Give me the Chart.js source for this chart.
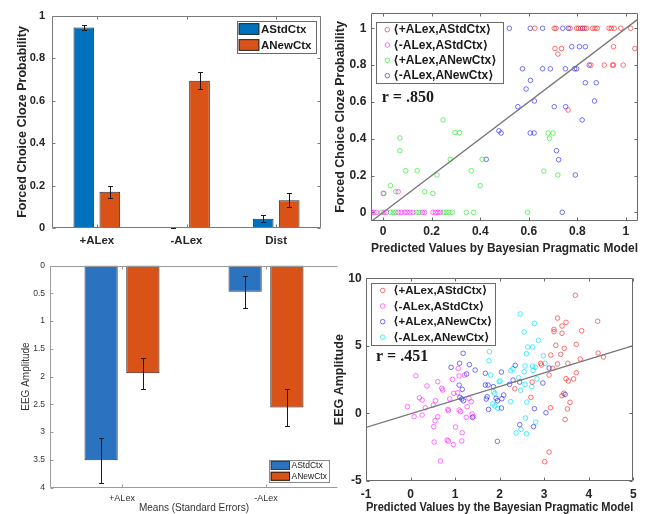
<!DOCTYPE html>
<html>
<head>
<meta charset="utf-8">
<script src="https://cdn.jsdelivr.net/npm/chart.js@4.4.1/dist/chart.umd.min.js"></script>
<style>
body { margin: 0; background: #fff; }
#wrap { position: relative; width: 657px; height: 514px; overflow: hidden; background: #fff; }
canvas { position: absolute; }
</style>
</head>
<body>
<div id="wrap">
<canvas id="clozeBars" width="330" height="252" style="left:0;top:0"></canvas>
<canvas id="clozeScatter" width="327" height="258" style="left:330px;top:0"></canvas>
<canvas id="eegBars" width="338" height="259" style="left:0;top:255px"></canvas>
<canvas id="eegScatter" width="327" height="254" style="left:330px;top:262px"></canvas>
</div>
<script>
// bar panels
const barGroups = ['+ALex', '-ALex', 'Dist'];
const ctxLabels = ['AStdCtx', 'ANewCtx'];
const clozeStd = [0.945, 0.005, 0.045];
const clozeStdErr = [0.013, 0.003, 0.016];
const clozeNew = [0.172, 0.694, 0.132];
const clozeNewErr = [0.029, 0.041, 0.033];
const clozeTicks = [0, 0.2, 0.4, 0.6, 0.8, 1];

const eegGroups = ['+ALex', '-ALex'];
const eegStd = [3.51, 0.47];
const eegStdErr = [0.41, 0.29];
const eegNew = [1.94, 2.56];
const eegNewErr = [0.28, 0.34];
const eegTicks = [0, 0.5, 1, 1.5, 2, 2.5, 3, 3.5, 4];

// scatter panels
const pairLabels = ['⟨+ALex,AStdCtx⟩', '⟨-ALex,AStdCtx⟩', '⟨+ALex,ANewCtx⟩', '⟨-ALex,ANewCtx⟩'];

const clozePlusStd = [[0.625,1],[0.705,1],[0.712,1],[0.77,1],[0.797,1],[0.805,1],[0.814,1],[0.83,1],[0.838,1],[0.863,1],[0.873,1],[0.882,1],[0.931,1],[0.94,1],[0.952,1],[0.979,1],[1.02,1],[0.708,0.89],[0.735,0.89],[0.72,0.86],[0.949,0.9],[1.037,0.89],[0.856,0.8],[0.911,0.8],[0.945,0.8],[0.949,0.8],[0.989,0.8],[0.762,0.556]];
const clozeMinusStd = [[-0.048,0],[-0.038,0],[-0.027,0],[0.003,0],[0.014,0],[0.062,0],[0.075,0],[0.089,0],[0.099,0],[0.11,0],[0.123,0],[0.162,0],[0.171,0],[0.205,0],[0.216,0],[0.226,0],[0.236,0],[0.062,0.112],[0.003,0.103]];
const clozePlusNew = [[0.247,0.502],[0.296,0.433],[0.315,0.433],[0.069,0.404],[0.069,0.335],[0.277,0.288],[0.408,0.288],[0.093,0.226],[0.14,0.226],[0.363,0.226],[0.222,0.203],[0.03,0.145],[0.4,0.145],[0.052,0.112],[0.171,0.112],[0.205,0.103],[0,0.103],[0.68,0.431],[0.7,0.431],[0.685,0.402],[0.662,0.224],[0.72,0.203],[0.595,0],[-0.007,0],[0.03,0],[0.041,0],[0.052,0],[0.137,0],[0.148,0],[0.249,0],[0.26,0],[0.271,0],[0.285,0],[0.343,0],[0.373,0]];
const clozeMinusNew = [[0.52,1],[0.606,1],[0.657,1],[0.74,1],[0.763,1],[0.822,1],[0.777,0.9],[0.809,0.9],[0.833,0.9],[0.574,0.78],[0.657,0.78],[0.689,0.78],[0.751,0.78],[0.789,0.78],[0.797,0.78],[0.849,0.8],[0.607,0.717],[0.833,0.704],[0.878,0.704],[0.589,0.67],[0.623,0.605],[0.871,0.605],[0.555,0.574],[0.705,0.574],[0.752,0.574],[0.82,0.502],[0.477,0.443],[0.486,0.431],[0.606,0.431],[0.622,0.431],[0.714,0.335],[0.723,0.286],[0.425,0.288],[0.792,0.203],[0.738,0]];
const clozeFitX = [-0.05, 1.05];
const clozeFitY = [-0.05, 1.05];

const eegPlusStd = [[3.7,8.74],[3.3,7.06],[3.4,6.47],[3.49,6.74],[4.2,6.82],[3.22,6.22],[3.22,6.05],[3.4,5.93],[3.84,6.12],[3.26,5.04],[3.72,5.11],[3.45,4.82],[3.15,4.32],[3.37,4.37],[4.21,4.47],[4.33,4.17],[3.81,4.03],[2.92,3.71],[2.94,3.58],[3.3,3.66],[3.53,3.71],[3.19,3.34],[3.11,2.84],[3.72,3.01],[3.49,2.57],[3.54,2.4],[3.66,2.55],[2.73,2.32],[2.34,1.83],[3.44,1.49],[3.4,1.31],[2.7,1.19],[3.58,0.82],[3.14,0.42],[3.52,0.33],[3.47,-0.44],[3.11,-2.86],[3.01,-3.57]];
const eegMinusStd = [[0.12,2.79],[0.37,2.03],[0.61,2.35],[0.7,1.86],[0.72,1.73],[0.94,2.52],[1.09,2.77],[1.21,2.84],[1.07,3.32],[1.06,1.53],[0.2,1.16],[0.26,0.99],[-0.07,0.5],[0.33,0.42],[0.56,0.94],[0.51,0.62],[0.08,-0.24],[0.26,-0.12],[0.84,0.3],[0.85,0.2],[0.88,1.07],[0.61,-0.24],[0.55,-0.54],[0.52,-0.98],[1.09,0.25],[1.12,0.13],[1.31,1.12],[1.27,0.5],[1.38,-0.04],[1.41,-0.24],[1.25,-0.29],[1.01,-1.01],[1.16,-1.43],[0.53,-2.12],[0.82,-1.97],[0.85,-2.04],[0.96,-2.31],[1.15,-2.04],[0.67,-3.52],[0.97,1.49],[1.36,0.87]];
const eegPlusNew = [[2.35,3.56],[2.04,3.06],[3.11,3.36],[2.3,2.47],[2.45,2.32],[2.22,2.15],[2.97,2.25],[2.09,1.36],[3.47,1.41],[2.04,0.4],[2.78,0.35],[3.04,0.05],[2.45,-0.83],[2.76,-0.98],[1.95,-2.07],[1.18,4.45],[1.1,3.71],[0.91,3.41],[1.32,3.61],[1.45,3.21],[1.26,2.92],[1.68,2.97],[1.09,2.1],[1.68,2.1],[1.74,2.1],[1.16,1.78],[1.86,1.98],[1.92,1.12],[1.95,0.94],[1.11,1.19],[1.15,1.07],[1.19,0.94],[2.05,1.09],[1.75,0.3],[1.39,-0.29],[1.72,1.24],[1.7,1.07]];
const eegMinusNew = [[2.46,7.36],[2.78,6.67],[2.55,6.03],[2.87,5.41],[2.63,4.91],[2.74,4.91],[2.6,4.42],[2.98,4.27],[3.02,3.71],[2.57,3.51],[2.74,3.51],[2.8,3.41],[2.3,3.31],[2.25,3.16],[2.55,3.09],[2.75,3.19],[2.43,2.64],[2.84,2.55],[2.01,2.4],[2.57,2.15],[2.72,1.98],[2.47,1.71],[2.25,0.87],[2.61,0.84],[2.58,-0.34],[2.81,-0.64],[2.48,-1.18],[2.37,-1.45],[2.6,-1.5],[1.77,4.57],[1.76,3.9],[1.8,2.84],[1.99,2.35],[1.86,1.61],[1.89,1.49],[1.84,0.7],[1.89,0.55],[1.96,0.38]];
const eegFitX = [-1, 5];
const eegFitY = [-1.03, 5.02];
const eegXTicks = [-1, 0, 1, 2, 3, 4, 5];
const eegYTicks = [-5, 0, 5, 10];

Chart.defaults.font.family = '"Liberation Sans", Arial, Helvetica, sans-serif';
Chart.defaults.color = '#262626';

const blue = '#0072BD', orange = '#D95319';
const red = 'rgba(255,0,0,0.55)', magenta = 'rgba(255,0,255,0.55)', green = 'rgba(0,225,0,0.55)',
      darkBlue = 'rgba(0,0,255,0.55)', cyan = 'rgba(0,230,255,0.7)';

function toPts(arr) { return arr.map(p => ({ x: p[0], y: p[1] })); }
function fitPts(xs, ys) { return xs.map((x, i) => ({ x: x, y: ys[i] })); }
function fixTicks(list) { return s => { s.ticks = list.map(v => ({ value: v })); }; }

function errorBars(cap) {
  return {
    id: 'errorBars',
    afterDatasetsDraw(chart) {
      const ys = chart.scales.y, c = chart.ctx;
      c.save();
      c.strokeStyle = '#1a1a1a';
      c.lineWidth = 1;
      chart.data.datasets.forEach((ds, i) => {
        if (!ds.errors) return;
        chart.getDatasetMeta(i).data.forEach((bar, j) => {
          const v = ds.data[j], e = ds.errors[j];
          const x = Math.round(bar.x) + 0.5;
          const y1 = Math.round(ys.getPixelForValue(v - e)) + 0.5;
          const y2 = Math.round(ys.getPixelForValue(v + e)) + 0.5;
          c.beginPath();
          c.moveTo(x, y1); c.lineTo(x, y2);
          c.moveTo(x - cap / 2, y1); c.lineTo(x + cap / 2, y1);
          c.moveTo(x - cap / 2, y2); c.lineTo(x + cap / 2, y2);
          c.stroke();
        });
      });
      c.restore();
    }
  };
}

function axesFrame(o) {
  return {
    id: 'axesFrame',
    afterDatasetsDraw(chart) {
      const a = chart.chartArea, c = chart.ctx, xs = chart.scales.x, ys = chart.scales.y;
      const L = Math.round(a.left) + 0.5, R = Math.round(a.right) - 0.5;
      const T = Math.round(a.top) + 0.5, B = Math.round(a.bottom) - 0.5;
      const n = o.tick;
      c.save();
      c.strokeStyle = o.color;
      c.lineWidth = 1;
      c.beginPath();
      c.moveTo(R, T); c.lineTo(L, T); c.lineTo(L, B); c.lineTo(R, B);
      if (o.right) c.lineTo(R, T);
      ys.ticks.forEach(t => {
        const y = Math.round(ys.getPixelForValue(t.value)) + 0.5;
        c.moveTo(L, y); c.lineTo(L + n, y);
        if (o.right) { c.moveTo(R, y); c.lineTo(R - n, y); }
      });
      xs.ticks.forEach((t, i) => {
        const x = Math.round(xs.getPixelForTick(i)) + 0.5;
        c.moveTo(x, B); c.lineTo(x, B - n);
        c.moveTo(x, T); c.lineTo(x, T + n);
      });
      c.stroke();
      c.restore();
    }
  };
}

function boxLegend(o) {
  return {
    id: 'boxLegend',
    afterDraw(chart) {
      const c = chart.ctx;
      const sets = chart.data.datasets.filter(d => d.label);
      const rowH = o.h / sets.length;
      c.save();
      c.fillStyle = '#fff';
      c.fillRect(o.x, o.y, o.w, o.h);
      c.strokeStyle = o.border;
      c.lineWidth = 1;
      c.strokeRect(Math.round(o.x) + 0.5, Math.round(o.y) + 0.5, Math.round(o.w), Math.round(o.h));
      c.font = o.font;
      c.textBaseline = 'middle';
      c.textAlign = 'left';
      sets.forEach((ds, i) => {
        const cy = o.y + rowH * (i + 0.5);
        if (o.marker === 'rect') {
          c.fillStyle = ds.backgroundColor;
          c.fillRect(o.x + o.mx, cy - o.mh / 2, o.mw, o.mh);
          c.strokeStyle = ds.borderColor;
          c.strokeRect(o.x + o.mx + 0.5, cy - o.mh / 2 + 0.5, o.mw - 1, o.mh - 1);
        } else {
          c.strokeStyle = ds.borderColor;
          c.beginPath();
          c.arc(o.x + o.mx, cy, 2.3, 0, Math.PI * 2);
          c.stroke();
        }
        c.fillStyle = o.textColor;
        c.fillText(ds.label, o.x + o.tx, cy + 0.5);
      });
      c.restore();
    }
  };
}

function note(text, x, y, font) {
  return {
    id: 'note',
    afterDraw(chart) {
      const c = chart.ctx;
      c.save();
      c.font = font;
      c.fillStyle = '#1a1a1a';
      c.textBaseline = 'middle';
      c.fillText(text, x, y);
      c.restore();
    }
  };
}

function barSet(label, data, errors, color, edge) {
  return {
    label: label, data: data, errors: errors,
    backgroundColor: color, borderColor: edge, borderWidth: 1, borderSkipped: false,
    categoryPercentage: 0.58, barPercentage: 0.795
  };
}

function scatterSet(label, pts, color) {
  return {
    label: label, data: toPts(pts), borderColor: color, backgroundColor: 'rgba(0,0,0,0)',
    borderWidth: 1, pointRadius: 2.3, pointHoverRadius: 2.3
  };
}

function fitSet(xs, ys) {
  return {
    type: 'line', data: fitPts(xs, ys), borderColor: '#777', borderWidth: 1.3,
    pointRadius: 0, fill: false, order: -1
  };
}

const plainAxis = { grid: { display: false, drawTicks: false, tickLength: 0 }, border: { display: false } };
const noLegend = { legend: { display: false }, tooltip: { enabled: false } };

// top left: cloze probability bars
new Chart(document.getElementById('clozeBars'), {
  type: 'bar',
  data: {
    labels: barGroups,
    datasets: [
      barSet(ctxLabels[0], clozeStd, clozeStdErr, blue, '#2b2b2b'),
      barSet(ctxLabels[1], clozeNew, clozeNewErr, orange, '#2b2b2b')
    ]
  },
  options: {
    responsive: false, animation: false, devicePixelRatio: 1,
    layout: { padding: { top: 15.7, right: 9, left: 0, bottom: 0 } },
    plugins: noLegend,
    scales: {
      x: Object.assign({}, plainAxis, {
        ticks: { padding: 5.8, font: { size: 11.5, weight: 'bold' }, maxRotation: 0 },
        afterFit: s => { s.height = 23.7; }
      }),
      y: Object.assign({}, plainAxis, {
        min: 0, max: 1,
        afterBuildTicks: fixTicks(clozeTicks),
        ticks: { padding: 7, font: { size: 11, weight: 'bold' }, callback: v => String(v) },
        title: { display: true, text: 'Forced Choice Cloze Probability', font: { size: 12.5, weight: 'bold' }, padding: { top: 15, bottom: 0 } },
        afterFit: s => { s.width = 52; }
      })
    }
  },
  plugins: [errorBars(5), axesFrame({ color: '#7a7a7a', tick: 3, right: true }),
    boxLegend({ x: 237, y: 21, w: 79, h: 32, marker: 'rect', mx: 1.7, mw: 20.6, mh: 11.7, tx: 24,
      font: 'bold 11.5px "Liberation Sans", Arial, sans-serif', textColor: '#1a1a1a', border: '#6a6a6a' })]
});

// top right: cloze vs model
new Chart(document.getElementById('clozeScatter'), {
  type: 'scatter',
  data: {
    datasets: [
      fitSet(clozeFitX, clozeFitY),
      scatterSet(pairLabels[0], clozePlusStd, red),
      scatterSet(pairLabels[1], clozeMinusStd, magenta),
      scatterSet(pairLabels[2], clozePlusNew, green),
      scatterSet(pairLabels[3], clozeMinusNew, darkBlue)
    ]
  },
  options: {
    responsive: false, animation: false, devicePixelRatio: 1,
    layout: { padding: { top: 13, right: 19, left: 0, bottom: 0 } },
    plugins: noLegend,
    scales: {
      x: Object.assign({}, plainAxis, {
        type: 'linear', min: -0.05, max: 1.05,
        afterBuildTicks: fixTicks(clozeTicks),
        ticks: { padding: 3.5, font: { size: 12, weight: 'bold' }, callback: v => String(v), maxRotation: 0, autoSkip: false },
        title: { display: true, text: 'Predicted Values by Bayesian Pragmatic Model', font: { size: 12.5, weight: 'bold' }, padding: { top: 0, bottom: 2.2 } },
        afterFit: s => { s.height = 37; }
      }),
      y: Object.assign({}, plainAxis, {
        min: -0.047, max: 1.083,
        afterBuildTicks: fixTicks(clozeTicks),
        ticks: { padding: 4.7, font: { size: 12, weight: 'bold' }, callback: v => String(v) },
        title: { display: true, text: 'Forced Choice Cloze Probability', font: { size: 12.5, weight: 'bold' }, padding: { top: 3.5, bottom: 0 } },
        afterFit: s => { s.width = 41; }
      })
    }
  },
  plugins: [axesFrame({ color: '#6a6a6a', tick: 3, right: true }),
    boxLegend({ x: 46, y: 22, w: 126.7, h: 61.3, marker: 'circle', mx: 11.3, tx: 17.3,
      font: 'bold 12px "Liberation Sans", "DejaVu Sans", sans-serif', textColor: '#1a1a1a', border: '#6a6a6a' }),
    note('r = .850', 51.7, 98.3, 'bold 16px "Liberation Serif", serif')]
});

// bottom left: EEG amplitude bars
new Chart(document.getElementById('eegBars'), {
  type: 'bar',
  data: {
    labels: eegGroups,
    datasets: [
      barSet(ctxLabels[0], eegStd, eegStdErr, '#2b72c0', '#3a3a3a'),
      barSet(ctxLabels[1], eegNew, eegNewErr, orange, '#2a1a10')
    ]
  },
  options: {
    responsive: false, animation: false, devicePixelRatio: 1,
    layout: { padding: { top: 10.6, right: 0, left: 0, bottom: 0 } },
    plugins: noLegend,
    scales: {
      x: Object.assign({}, plainAxis, {
        ticks: { padding: 5.4, font: { size: 9 }, color: '#333', maxRotation: 0 },
        title: { display: true, text: 'Means (Standard Errors)', font: { size: 10 }, color: '#333', padding: { top: 0, bottom: 0 } },
        afterFit: s => { s.height = 26.5; }
      }),
      y: Object.assign({}, plainAxis, {
        min: 0, max: 4, reverse: true,
        afterBuildTicks: fixTicks(eegTicks),
        ticks: { padding: 5, font: { size: 8.5 }, color: '#333', callback: v => String(v) },
        title: { display: true, text: 'EEG Amplitude', font: { size: 10 }, color: '#333', padding: { top: 20, bottom: 0 } },
        afterFit: s => { s.width = 50; }
      })
    }
  },
  plugins: [errorBars(5), axesFrame({ color: '#9a9a9a', tick: 3, right: false }),
    boxLegend({ x: 269, y: 205, w: 60.3, h: 21.7, marker: 'rect', mx: 1.7, mw: 19.3, mh: 9, tx: 22.5,
      font: '8.5px "Liberation Sans", Arial, sans-serif', textColor: '#222', border: '#8a8a8a' })]
});

// bottom right: EEG vs model
new Chart(document.getElementById('eegScatter'), {
  type: 'scatter',
  data: {
    datasets: [
      fitSet(eegFitX, eegFitY),
      scatterSet(pairLabels[0], eegPlusStd, red),
      scatterSet(pairLabels[1], eegMinusStd, magenta),
      scatterSet(pairLabels[2], eegPlusNew, darkBlue),
      scatterSet(pairLabels[3], eegMinusNew, cyan)
    ]
  },
  options: {
    responsive: false, animation: false, devicePixelRatio: 1,
    layout: { padding: { top: 16.3, right: 23.7, left: 0, bottom: 0 } },
    plugins: noLegend,
    scales: {
      x: Object.assign({}, plainAxis, {
        type: 'linear', min: -1, max: 5,
        afterBuildTicks: fixTicks(eegXTicks),
        ticks: { padding: 6, font: { size: 12, weight: 'bold' }, callback: v => String(v), maxRotation: 0, autoSkip: false },
        title: { display: true, text: 'Predicted Values by the Bayesian Pragmatic Model', font: { size: 12.5, weight: 'bold' }, padding: { top: 0, bottom: 0.5 } },
        afterFit: s => { s.height = 35; }
      }),
      y: Object.assign({}, plainAxis, {
        min: -5, max: 10,
        afterBuildTicks: fixTicks(eegYTicks),
        ticks: { padding: 4.3, font: { size: 12, weight: 'bold' }, callback: v => String(v) },
        title: { display: true, text: 'EEG Amplitude', font: { size: 12.5, weight: 'bold' }, padding: { top: 2.5, bottom: 0 } },
        afterFit: s => { s.width = 36; }
      })
    }
  },
  plugins: [axesFrame({ color: '#6a6a6a', tick: 3, right: true }),
    boxLegend({ x: 40.7, y: 20.7, w: 124.3, h: 62.3, marker: 'circle', mx: 12, tx: 22.6,
      font: 'bold 11.5px "Liberation Sans", "DejaVu Sans", sans-serif', textColor: '#1a1a1a', border: '#6a6a6a' }),
    note('r = .451', 46, 94.7, 'bold 16px "Liberation Serif", serif')]
});
</script>
</body>
</html>
